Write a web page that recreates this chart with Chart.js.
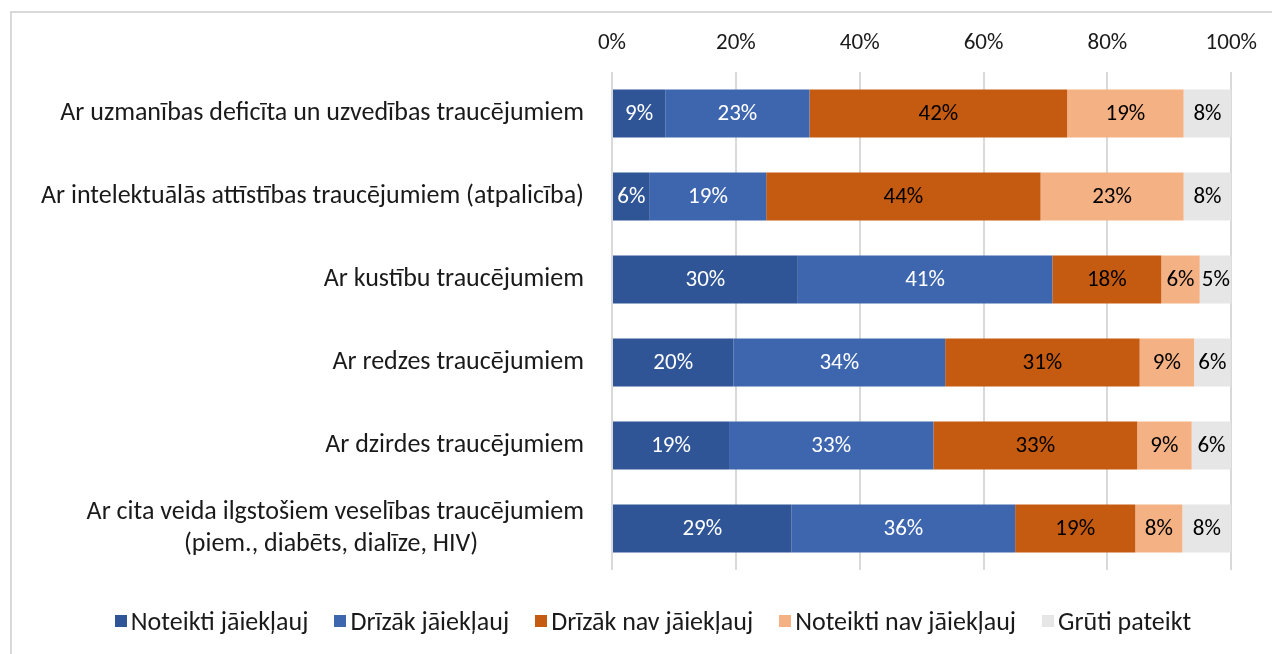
<!DOCTYPE html>
<html>
<head>
<meta charset="utf-8">
<script src="https://cdn.jsdelivr.net/npm/chart.js@4/dist/chart.umd.min.js"></script>
<style>
  body { margin: 0; background: #fff; overflow: hidden; font-family: Carlito, Lato, sans-serif; }
  .frame { position: absolute; left: 10px; top: 11px; width: 1300px; height: 700px; border: 2px solid #d9d9d9; }
  .wrap { position: absolute; left: 0; top: 0; width: 1272px; height: 654px; }
  #legend { position: absolute; left: 0; width: 1306px; top: 605px; height: 32px; display: flex; justify-content: center; align-items: center; font-size: 26px; color: #1a1a1a; }
  #legend .item { display: flex; align-items: center; margin: 0 13px; white-space: nowrap; }
  #legend .box { width: 12px; height: 12px; margin-right: 4px; }
</style>
</head>
<body>
<div class="frame"></div>
<div class="wrap"><canvas id="chart"></canvas></div>
<div id="legend"></div>
<script>
// kategorijas (y ass)
const categories = [
  "Ar uzmanības deficīta un uzvedības traucējumiem",
  "Ar intelektuālās attīstības traucējumiem (atpalicība)",
  "Ar kustību traucējumiem",
  "Ar redzes traucējumiem",
  "Ar dzirdes traucējumiem",
  // otrā rinda centrēta zem pirmās (atstarpes beigās)
  ["Ar cita veida ilgstošiem veselības traucējumiem", "(piem., diabēts, dialīze, HIV)" + "\u00a0".repeat(18)]
];

const seriesNames = [
  "Noteikti jāiekļauj",
  "Drīzāk jāiekļauj",
  "Drīzāk nav jāiekļauj",
  "Noteikti nav jāiekļauj",
  "Grūti pateikt"
];

// vērtības (%), nolasītas no attēla
const noteiktiJa = [8.6, 6.1, 30.0, 19.6, 18.9, 29.0];
const drizakJa = [23.3, 18.8, 41.1, 34.2, 33.0, 36.1];
const drizakNav = [41.6, 44.3, 17.6, 31.4, 32.9, 19.4];
const noteiktiNav = [18.8, 23.1, 6.2, 8.8, 8.8, 7.6];
const grutiPateikt = [7.7, 7.7, 5.2, 5.9, 6.4, 7.9];

const xTicks = [0, 20, 40, 60, 80, 100];

const colors = ["#2f5597", "#3e66ae", "#c55a11", "#f4b183", "#e7e6e6"];
const labelColors = ["#ffffff", "#ffffff", "#000000", "#000000", "#000000"];

const fontFamily = "Carlito, Lato, sans-serif";
const labelSize = 26; // y ass un leģenda
const numSize = 23;   // skaitļi

// datu etiķetes uz stabiņiem
const barLabels = {
  id: "barLabels",
  afterDatasetsDraw(chart) {
    const ctx = chart.ctx;
    ctx.save();
    ctx.font = `${numSize}px ${fontFamily}`;
    ctx.textAlign = "center";
    ctx.textBaseline = "middle";
    chart.data.datasets.forEach((ds, i) => {
      const meta = chart.getDatasetMeta(i);
      meta.data.forEach((bar, j) => {
        const x = (bar.x + bar.base) / 2;
        ctx.fillStyle = labelColors[i];
        ctx.fillText(Math.round(ds.data[j]) + "%", x, bar.y + 1);
      });
    });
    ctx.restore();
  }
};

const allSeries = [noteiktiJa, drizakJa, drizakNav, noteiktiNav, grutiPateikt];

const ctx = document.getElementById("chart").getContext("2d");
const chart = new Chart(ctx, {
  type: "bar",
  data: {
    labels: categories,
    datasets: allSeries.map((vals, i) => ({
      label: seriesNames[i],
      data: vals,
      backgroundColor: colors[i],
      borderWidth: 0,
      barPercentage: 0.58,
      categoryPercentage: 1
    }))
  },
  options: {
    indexAxis: "y",
    responsive: true,
    maintainAspectRatio: false,
    animation: false,
    layout: { padding: { left: 0, right: 40, top: 0, bottom: 84 } },
    scales: {
      x: {
        position: "top",
        stacked: true,
        min: 0,
        max: 100,
        afterFit: (scale) => { scale.height = 72; },
        afterBuildTicks: (scale) => { scale.ticks = xTicks.map((v) => ({ value: v })); },
        ticks: {
          padding: 15,
          color: "#1a1a1a",
          font: { family: fontFamily, size: numSize },
          callback: (v) => v + "%"
        },
        grid: { color: "#d9d9d9", lineWidth: 2, drawTicks: false },
        border: { display: false }
      },
      y: {
        stacked: true,
        afterFit: (scale) => { scale.width = 612; },
        ticks: {
          padding: 28,
          color: "#1a1a1a",
          font: { family: fontFamily, size: labelSize, lineHeight: 1.23 }
        },
        grid: { display: false, drawTicks: false },
        border: { display: false }
      }
    },
    plugins: {
      legend: { display: false },
      tooltip: { enabled: false }
    }
  },
  plugins: [barLabels]
});

// leģenda (HTML) no tām pašām sērijām
const legendEl = document.getElementById("legend");
chart.data.datasets.forEach((ds) => {
  const item = document.createElement("div");
  item.className = "item";
  const box = document.createElement("span");
  box.className = "box";
  box.style.background = ds.backgroundColor;
  const txt = document.createElement("span");
  txt.textContent = ds.label;
  item.appendChild(box);
  item.appendChild(txt);
  legendEl.appendChild(item);
});
</script>
</body>
</html>
